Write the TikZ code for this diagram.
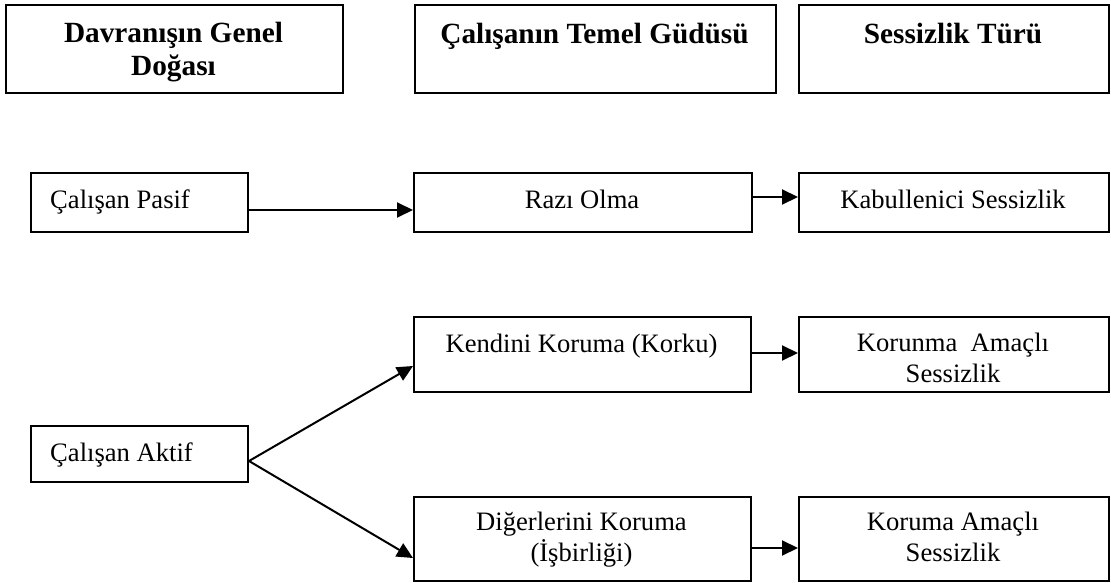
\documentclass[tikz,border=0pt]{standalone}
\usepackage{fontspec}
\setmainfont{Liberation Serif}
\usetikzlibrary{arrows.meta}
\begin{document}
\begin{tikzpicture}[x=1pt,y=-1pt,
  box/.style={draw, line width=2pt, inner sep=0pt, anchor=north west},
  head/.style={font=\fontsize{29.3}{33}\selectfont\bfseries, align=center, anchor=base, inner sep=0pt},
  txt/.style={font=\fontsize{26.6}{30.5}\selectfont, align=center, anchor=base, inner sep=0pt},
  link/.style={line width=2pt, -{Triangle[length=16pt,width=15pt]}}]
\useasboundingbox (0,0) rectangle (1111,583);

% column headers
\node[box, minimum width=337pt, minimum height=88pt] (h1) at (5,4) {};
\node[box, minimum width=361pt, minimum height=88pt] (h2) at (414,4) {};
\node[box, minimum width=310pt, minimum height=88pt] (h3) at (798,4) {};
% multi-line texts are placed by the baseline of their last line
\node[head] (h1t) at (173.5,76) {Davranışın Genel\\Doğası};
\node[head] (h2t) at (594.5,44) {Çalışanın Temel Güdüsü};
\node[head] (h3t) at (953,44) {Sessizlik Türü};

% passive branch
\node[box, minimum width=217pt, minimum height=59pt] (pasif) at (30,172) {};
\node[box, minimum width=338pt, minimum height=59pt] (razi) at (413,172) {};
\node[box, minimum width=310pt, minimum height=59pt] (kabul) at (798,172) {};
\node[txt, anchor=base west] (pasift) at (50,208) {Çalışan Pasif};
\node[txt] (razit) at (582,208) {Razı Olma};
\node[txt] (kabult) at (953,208) {Kabullenici Sessizlik};

% active branch
\node[box, minimum width=217pt, minimum height=56pt] (aktif) at (30,425) {};
\node[box, minimum width=337pt, minimum height=75pt] (kendini) at (413,316) {};
\node[box, minimum width=310pt, minimum height=75pt] (korunma) at (798,316) {};
\node[box, minimum width=337pt, minimum height=84pt] (diger) at (413,496) {};
\node[box, minimum width=310pt, minimum height=84pt] (koruma) at (798,496) {};
\node[txt, anchor=base west] (aktift) at (50,461) {Çalışan Aktif};
\node[txt] (kendinit) at (581.5,352) {Kendini Koruma (Korku)};
\node[txt] (korunmat) at (953,382) {Korunma\ \ Amaçlı\\Sessizlik};
\node[txt] (digert) at (581.5,561) {Diğerlerini Koruma\\(İşbirliği)};
\node[txt] (korumat) at (953,561) {Koruma Amaçlı\\Sessizlik};

% connectors
\draw[link] ([yshift=-7.5pt]pasif.east) -- ([yshift=-7.5pt]razi.west);
\draw[link] ([yshift=5.5pt]razi.east) -- ([yshift=5.5pt]kabul.west);
\draw[link] ([yshift=1.5pt]kendini.east) -- ([yshift=1.5pt]korunma.west);
\draw[link] ([yshift=-9pt]diger.east) -- ([yshift=-9pt]koruma.west);
\draw[link] ([yshift=-7pt]aktif.east) -- ([yshift=-11.5pt]kendini.west);
\draw[link] ([yshift=-7pt]aktif.east) -- ([yshift=-19pt]diger.west);
\end{tikzpicture}
\end{document}
